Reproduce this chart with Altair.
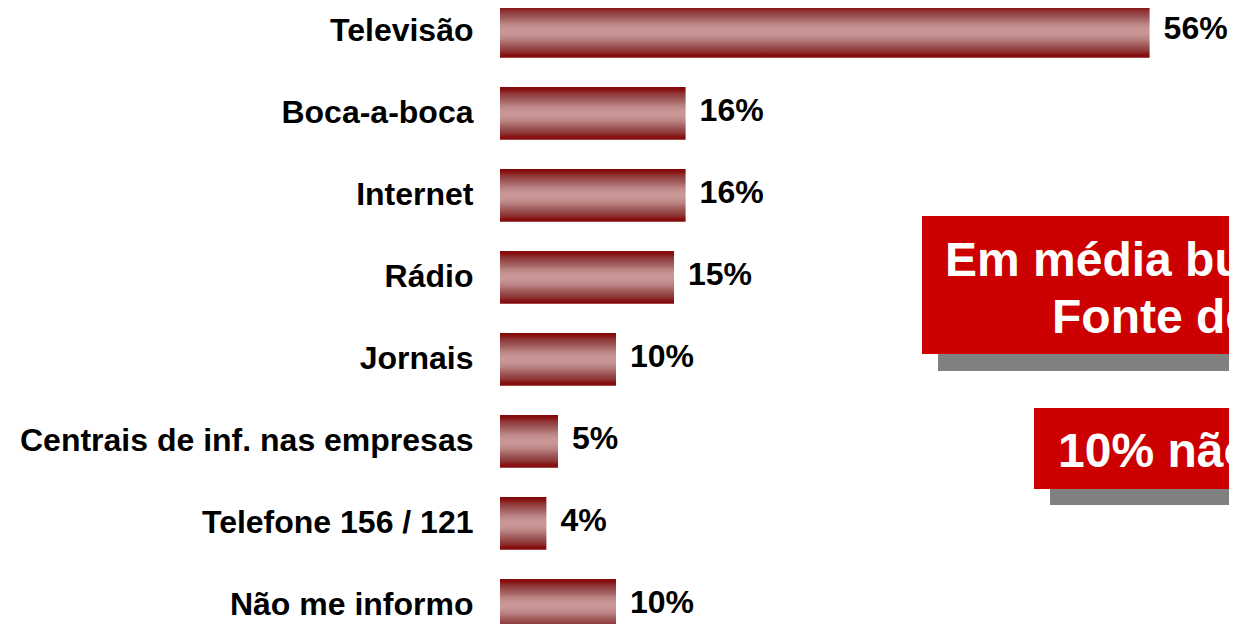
import altair as alt
import pandas as pd

categorias = ["Televisão", "Boca-a-boca", "Internet", "Rádio", "Jornais",
              "Centrais de inf. nas empresas", "Telefone 156 / 121", "Não me informo"]
valores = [56, 16, 16, 15, 10, 5, 4, 10]
rotulos = ["56%", "16%", "16%", "15%", "10%", "5%", "4%", "10%"]

nota1_l1 = "Em média buscam"
nota1_l2 = "Fonte de informação"
nota2 = "10% não se informam"

df = pd.DataFrame({"categoria": categorias, "valor": valores, "rotulo": rotulos})
one = pd.DataFrame({"k": [0]})

FONT = "Liberation Sans"
PADL = 492
W, H = 1221 - PADL, 616

grad = alt.Gradient(
    gradient="linear",
    stops=[
        alt.GradientStop(color="#840a0a", offset=0.0),
        alt.GradientStop(color="#870f0f", offset=0.05),
        alt.GradientStop(color="#8e3535", offset=0.12),
        alt.GradientStop(color="#a05a5a", offset=0.24),
        alt.GradientStop(color="#bc8585", offset=0.36),
        alt.GradientStop(color="#c99696", offset=0.46),
        alt.GradientStop(color="#c99696", offset=0.54),
        alt.GradientStop(color="#bc8585", offset=0.64),
        alt.GradientStop(color="#a05a5a", offset=0.76),
        alt.GradientStop(color="#8e3535", offset=0.88),
        alt.GradientStop(color="#870f0f", offset=0.95),
        alt.GradientStop(color="#840a0a", offset=1.0),
    ],
    x1=0, x2=0, y1=0, y2=1,
)

STEP = 82.0
yenc = alt.Y(
    "categoria:N",
    sort=categorias,
    scale=alt.Scale(range=[-3, -3 + STEP * 7.642], paddingInner=0.358, paddingOuter=0),
    axis=alt.Axis(title=None, domain=False, ticks=False, tickSize=0, labelPadding=27,
                  labelFont=FONT, labelFontSize=32, labelFontWeight="bold",
                  labelColor="black", labelLimit=700),
)
xenc = alt.X("valor:Q", scale=alt.Scale(domain=[0, W / 11.6]), axis=None)

bars = alt.Chart(df).mark_bar(color=grad).encode(x=xenc, y=yenc)
labels = alt.Chart(df).mark_text(
    align="left", baseline="middle", dx=14, dy=-2,
    font=FONT, fontSize=32, fontWeight="bold", color="black"
).encode(x=xenc, y=yenc, text="rotulo:N")

def rect(x, x2, y, y2, color):
    return alt.Chart(one).mark_rect(color=color).encode(
        x=alt.value(x), x2=alt.value(x2), y=alt.value(y), y2=alt.value(y2))

def txt(s, x, y, size):
    return alt.Chart(one).mark_text(
        text=s, align="left", baseline="alphabetic", font=FONT, fontSize=size,
        fontWeight="bold", color="white"
    ).encode(x=alt.value(x), y=alt.value(y))

ann = [
    rect(438, W + 40, 224, 363, "#808080"),
    rect(422, W + 40, 208, 346, "#cc0000"),
    rect(550, W + 40, 416, 497, "#808080"),
    rect(534, W + 40, 400, 481, "#cc0000"),
    txt(nota1_l1, 445, 268, 48),
    txt(nota1_l2, 552, 325, 48),
    txt(nota2, 558, 459, 48),
]

chart = alt.layer(bars, labels, *ann).properties(
    width=W, height=H,
    autosize=alt.AutoSizeParams(type="none"),
    padding={"left": PADL, "top": 0, "right": 0, "bottom": 0},
    background="white",
).configure_view(stroke=None)

chart.save("out.html", embed_options={"renderer": "svg", "actions": False})
